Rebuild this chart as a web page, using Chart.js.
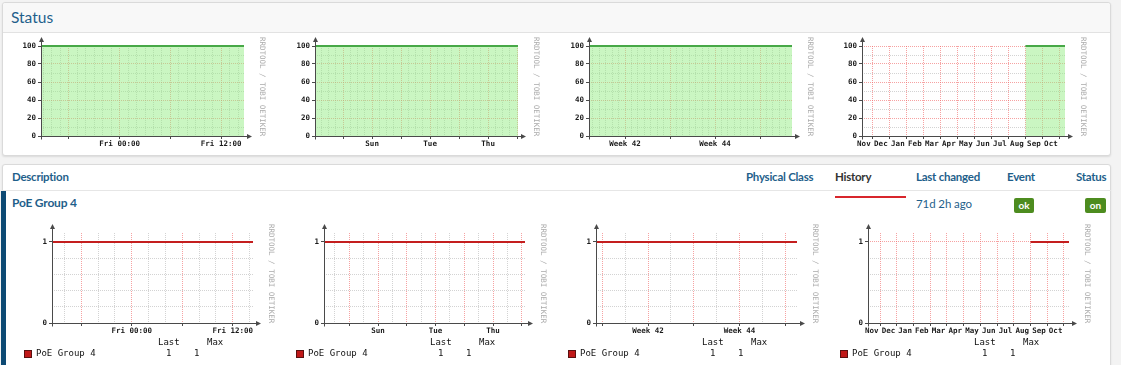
<!DOCTYPE html>
<html>
<head>
<meta charset="utf-8">
<script src="https://cdn.jsdelivr.net/npm/chart.js@4.4.0/dist/chart.umd.min.js"></script>
<style>
  body { margin: 0; width: 1121px; height: 365px; overflow: hidden; position: relative; background: #f3f3f3; font-family: Lato, "Open Sans", sans-serif; }
  .panel { position: absolute; left: 2px; width: 1107px; background: #fff; border: 1px solid #dadada; border-radius: 3px; box-shadow: 0 1px 2px rgba(0,0,0,.10); }
  #topPanel { top: 2px; height: 152px; }
  #topPanel .hd { height: 29px; background: #f8f8f8; border-bottom: 1px solid #e2e2e2; border-radius: 3px 3px 0 0; }
  #botPanel { top: 164px; height: 220px; }
  .t { position: absolute; white-space: nowrap; line-height: 14px; }
  .blue { color: #1f5f8b; }
  .th { font-size: 11.5px; letter-spacing: -0.25px; font-weight: bold; top: 170px; }
  .badge { position: absolute; top: 198px; height: 15px; line-height: 15px; background: #4d8c1f; color: #fff; font-size: 10px; font-weight: bold; text-align: center; border-radius: 2px; }
  canvas { position: absolute; }
  .leg { position: absolute; font: 9px "DejaVu Sans Mono", monospace; line-height: 11px; color: #111; white-space: pre; }
  .sq { position: absolute; width: 6px; height: 6px; background: #c01818; border: 1px solid #5a1010; }
</style>
</head>
<body>
<div id="topPanel" class="panel"><div class="hd"></div></div>
<div id="botPanel" class="panel"></div>
<div style="position:absolute;left:2px;top:190px;width:1109px;height:1px;background:#e6e6e6"></div>
<div style="position:absolute;left:1px;top:191px;width:5px;height:180px;background:#0d4a74"></div>

<div class="t blue" style="left:11px;top:7px;font-size:15.5px;line-height:20px">Status</div>

<div class="t th blue" style="left:12px">Description</div>
<div class="t th blue" style="left:746px">Physical Class</div>
<div class="t th" style="left:835px;color:#333">History</div>
<div class="t th blue" style="left:916px">Last changed</div>
<div class="t th blue" style="left:1007px">Event</div>
<div class="t th blue" style="left:1076px">Status</div>

<div class="t blue" style="left:12px;top:196px;font-size:12px;letter-spacing:-0.2px;font-weight:bold">PoE Group 4</div>
<div style="position:absolute;left:835px;top:196px;width:71px;height:2px;background:#d8262c"></div>
<div class="t blue" style="left:916px;top:197px;font-size:11.5px;letter-spacing:-0.1px">71d 2h ago</div>
<div class="badge" style="left:1014px;width:20px">ok</div>
<div class="badge" style="left:1085px;width:21px">on</div>

<canvas id="s1" width="274" height="116"></canvas>
<canvas id="s2" width="274" height="116"></canvas>
<canvas id="s3" width="274" height="116"></canvas>
<canvas id="s4" width="274" height="116"></canvas>
<canvas id="p1" width="272" height="115"></canvas>
<canvas id="p2" width="272" height="115"></canvas>
<canvas id="p3" width="272" height="115"></canvas>
<canvas id="p4" width="272" height="115"></canvas>

<script>
// x-axis labels and where they sit (day: hours from Fri 00:00, week: days from Sun 00:00,
// month: weeks from start of week 42, year: months from Nov 1)
const dayLabels = ['Fri 00:00', 'Fri 12:00'];
const dayLabelAt = [0, 12];
const weekLabels = ['Sun', 'Tue', 'Thu'];
const weekLabelAt = [0, 2, 4];
const monthLabels = ['Week 42', 'Week 44'];
const monthLabelAt = [0, 2];
const yearLabels = ['Nov', 'Dec', 'Jan', 'Feb', 'Mar', 'Apr', 'May', 'Jun', 'Jul', 'Aug', 'Sep', 'Oct'];
const yearLabelAt = [0.5, 1.5, 2.5, 3.5, 4.5, 5.5, 6.5, 7.5, 8.5, 9.5, 10.5, 11.5];

// y-axis ticks
const statusYLabels = [0, 20, 40, 60, 80, 100];
const poeYLabels = [0, 1];

// status (%) series, top row
const statusDayX = [-9.3, 14.7];
const statusDayY = [100, 100];
const statusWeekX = [-1.97, 5.03];
const statusWeekY = [100, 100];
const statusMonthX = [-0.8, 3.71];
const statusMonthY = [100, 100];
const statusYearX = [10.0, 12.33];
const statusYearY = [100, 100];

// PoE Group 4 state series, bottom row
const poeDayX = [-9.47, 14.4];
const poeDayY = [1, 1];
const poeWeekX = [-1.88, 5.11];
const poeWeekY = [1, 1];
const poeMonthX = [-1.14, 3.26];
const poeMonthY = [1, 1];
const poeYearX = [10.0, 12.3];
const poeYearY = [1, 1];

const poeName = 'PoE Group 4';
const poeLast = [1, 1, 1, 1];
const poeMax = [1, 1, 1, 1];

const MAJOR = 'rgba(240,100,100,0.6)';
const MINOR = 'rgba(150,150,150,0.42)';
const AXIS = '#4a4a4a';
const tickFont = { family: 'DejaVu Sans Mono', size: 7.5, weight: 'bold' };

function gridTicks(min, max, minor, major, labelAt, labels) {
    const ticks = [];
    const find = v => ticks.find(t => Math.abs(t.value - v) < 1e-6);
    if (minor) {
        for (let k = Math.ceil(min / minor - 1e-9); k * minor <= max + 1e-9; k++) {
            ticks.push({ value: k * minor, kind: 'minor' });
        }
    }
    if (major) {
        for (let k = Math.ceil(min / major - 1e-9); k * major <= max + 1e-9; k++) {
            const t = find(k * major);
            if (t) t.kind = 'major'; else ticks.push({ value: k * major, kind: 'major' });
        }
    }
    labelAt.forEach((v, i) => {
        const t = find(v);
        if (t) t.lab = String(labels[i]); else ticks.push({ value: v, kind: 'none', lab: String(labels[i]) });
    });
    ticks.sort((a, b) => a.value - b.value);
    return ticks;
}

const rrdFrame = {
    id: 'rrdFrame',
    afterDraw(chart) {
        const { ctx, chartArea: a } = chart;
        const x0 = Math.round(a.left) + 0.5, y0 = Math.round(a.bottom) + 0.5;
        ctx.save();
        ctx.strokeStyle = AXIS;
        ctx.fillStyle = AXIS;
        ctx.lineWidth = 1;
        ctx.beginPath();
        ctx.moveTo(x0 - 3, y0); ctx.lineTo(a.right + 4, y0);
        ctx.moveTo(x0, y0 + 3); ctx.lineTo(x0, a.top - 5);
        ctx.stroke();
        ctx.beginPath();
        ctx.moveTo(a.right + 8, y0); ctx.lineTo(a.right + 3, y0 - 2.5); ctx.lineTo(a.right + 3, y0 + 2.5);
        ctx.fill();
        ctx.beginPath();
        ctx.moveTo(x0, a.top - 9); ctx.lineTo(x0 - 2.5, a.top - 4); ctx.lineTo(x0 + 2.5, a.top - 4);
        ctx.fill();
        ctx.translate(a.right + 18, a.top - 9);
        ctx.rotate(Math.PI / 2);
        ctx.font = '7.5px "DejaVu Sans Mono"';
        ctx.fillStyle = '#ababab';
        ctx.textBaseline = 'middle';
        ctx.fillText('RRDTOOL / TOBI OETIKER', 0, 0);
        ctx.restore();
    }
};

function makeGraph(id, left, top, g) {
    const el = document.getElementById(id);
    el.style.left = left + 'px';
    el.style.top = top + 'px';
    const gridColor = c => c.tick && c.tick.kind === 'major' ? MAJOR : (c.tick && c.tick.kind === 'minor' ? MINOR : 'rgba(0,0,0,0)');
    return new Chart(el.getContext('2d'), {
        type: 'line',
        data: {
            datasets: [{
                data: g.xs.map((x, i) => ({ x: x, y: g.ys[i] })),
                borderColor: g.line,
                borderWidth: 2,
                backgroundColor: g.fill || 'rgba(0,0,0,0)',
                fill: g.fill ? 'origin' : false,
                pointRadius: 0,
                tension: 0,
                clip: 4
            }]
        },
        options: {
            responsive: false,
            animation: false,
            events: [],
            layout: { padding: { left: 0, top: 10, right: el.width - 35 - g.plotW, bottom: 2 } },
            plugins: { legend: { display: false }, tooltip: { enabled: false } },
            scales: {
                x: {
                    type: 'linear',
                    min: g.xMin,
                    max: g.xMax,
                    afterBuildTicks: s => { s.ticks = gridTicks(g.xMin, g.xMax, g.minor, g.major, g.labelAt, g.labels); },
                    afterFit: s => { s.height = g.xH; },
                    ticks: { autoSkip: false, maxRotation: 0, minRotation: 0, padding: 1, font: tickFont, color: '#1a1a1a',
                             callback: (v, i, ticks) => ticks[i].lab || '' },
                    grid: { color: gridColor, lineWidth: 1, tickLength: 3,
                            tickColor: c => c.tick && c.tick.kind === 'major' ? AXIS : 'rgba(0,0,0,0)' },
                    border: { display: false, dash: [1, 1] }
                },
                y: {
                    min: 0,
                    max: g.yMax,
                    afterBuildTicks: s => { s.ticks = gridTicks(0, g.yMax, g.yMinor, g.yMajor, g.yLabelAt, g.yLabelAt); },
                    afterFit: s => { s.width = 35; },
                    ticks: { autoSkip: false, padding: 2, font: tickFont, color: '#1a1a1a',
                             callback: (v, i, ticks) => ticks[i].lab || '' },
                    grid: { color: c => c.tick && c.tick.value > 0 ? gridColor(c) : 'rgba(0,0,0,0)', lineWidth: 1, tickLength: 3,
                            tickColor: c => c.tick && c.tick.lab ? AXIS : 'rgba(0,0,0,0)' },
                    border: { display: false, dash: [1, 1] }
                }
            }
        },
        plugins: [rrdFrame]
    });
}

const topLefts = [6, 280, 554, 827];
const botLefts = [17, 289, 561, 833];
// translucent so the dotted grid shows through the area, as in rrdtool
const GREEN_FILL = 'rgba(150,238,134,0.5)';
const GREEN_LINE = '#47a847';
const RED_LINE = '#c41e1e';

const statusBase = { plotW: 203, xH: 14, yMax: 100, yMinor: 10, yMajor: 20, yLabelAt: statusYLabels, line: GREEN_LINE, fill: GREEN_FILL };
const poeBase = { plotW: 201, xH: 13, yMax: 1.111, yMinor: 0.2, yMajor: 1, yLabelAt: poeYLabels, line: RED_LINE };

makeGraph('s1', topLefts[0], 36, Object.assign({}, statusBase, { xMin: -9.3, xMax: 14.7, minor: 1, major: 6, labelAt: dayLabelAt, labels: dayLabels, xs: statusDayX, ys: statusDayY }));
makeGraph('s2', topLefts[1], 36, Object.assign({}, statusBase, { xMin: -1.97, xMax: 5.03, minor: 0.25, major: 1, labelAt: weekLabelAt, labels: weekLabels, xs: statusWeekX, ys: statusWeekY }));
makeGraph('s3', topLefts[2], 36, Object.assign({}, statusBase, { xMin: -0.8, xMax: 3.71, minor: 1 / 7, major: 1, labelAt: monthLabelAt, labels: monthLabels, xs: statusMonthX, ys: statusMonthY }));
makeGraph('s4', topLefts[3], 36, Object.assign({}, statusBase, { xMin: 0.39, xMax: 12.33, minor: 0, major: 1, labelAt: yearLabelAt, labels: yearLabels, xs: statusYearX, ys: statusYearY }));

makeGraph('p1', botLefts[0], 223, Object.assign({}, poeBase, { xMin: -9.47, xMax: 14.4, minor: 2, major: 6, labelAt: dayLabelAt, labels: dayLabels, xs: poeDayX, ys: poeDayY }));
makeGraph('p2', botLefts[1], 223, Object.assign({}, poeBase, { xMin: -1.88, xMax: 5.11, minor: 0.5, major: 1, labelAt: weekLabelAt, labels: weekLabels, xs: poeWeekX, ys: poeWeekY }));
makeGraph('p3', botLefts[2], 223, Object.assign({}, poeBase, { xMin: -1.14, xMax: 3.26, minor: 0.5, major: 1, labelAt: monthLabelAt, labels: monthLabels, xs: poeMonthX, ys: poeMonthY }));
makeGraph('p4', botLefts[3], 223, Object.assign({}, poeBase, { xMin: 0.28, xMax: 12.3, minor: 0, major: 1, labelAt: yearLabelAt, labels: yearLabels, xs: poeYearX, ys: poeYearY }));

// RRD-style legend under each PoE graph
botLefts.forEach((l, i) => {
    const axis = l + 35;
    const add = (cls, x, y, txt) => {
        const d = document.createElement('div');
        d.className = cls;
        d.style.left = x + 'px';
        d.style.top = y + 'px';
        if (txt !== undefined) d.textContent = txt;
        document.body.appendChild(d);
    };
    add('sq', axis - 28, 350);
    add('leg', axis - 16, 348, poeName);
    add('leg', axis + 106, 337, 'Last');
    add('leg', axis + 155, 337, 'Max');
    add('leg', axis + 114, 348, String(poeLast[i]));
    add('leg', axis + 142, 348, String(poeMax[i]));
});
</script>
</body>
</html>
